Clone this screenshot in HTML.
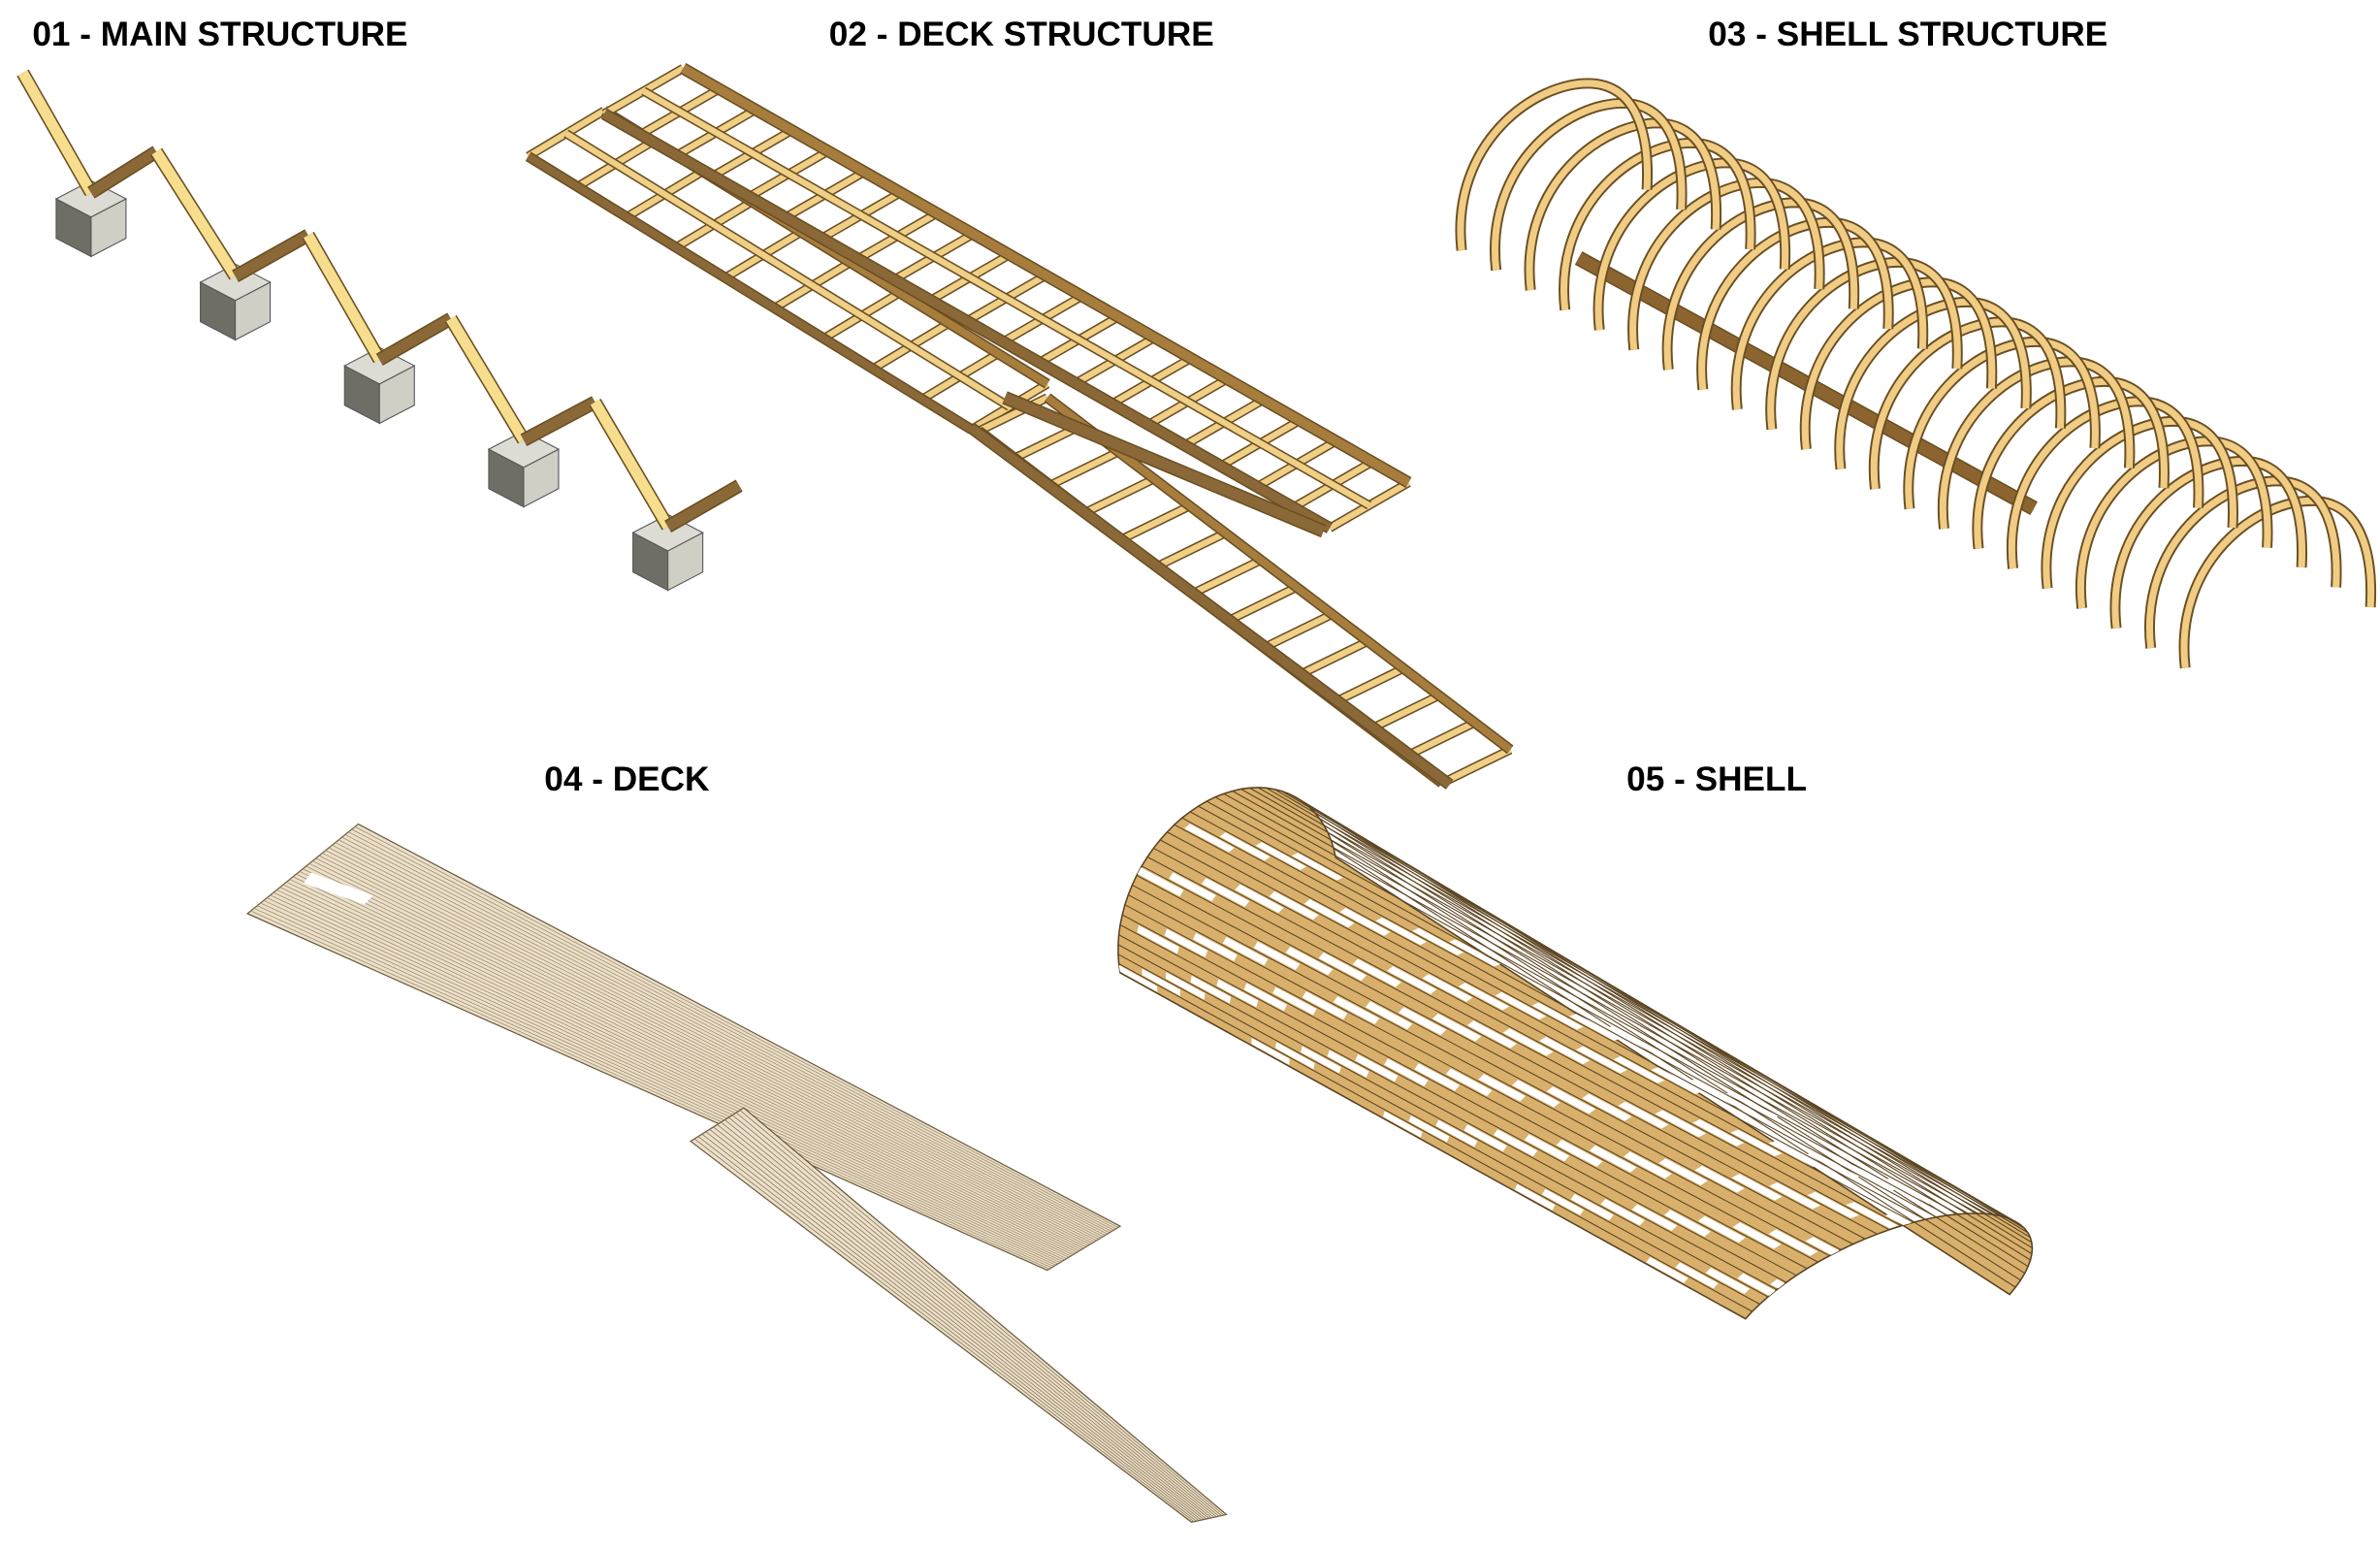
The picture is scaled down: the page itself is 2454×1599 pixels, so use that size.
<!DOCTYPE html>
<html><head><meta charset="utf-8">
<style>html,body{margin:0;padding:0;background:#fff;}svg{display:block;}</style>
</head><body>
<svg id="s" xmlns="http://www.w3.org/2000/svg" width="2454" height="1599" viewBox="0 0 1568 1022" preserveAspectRatio="none">
<rect width="1568" height="1022" fill="#fff"/>
<g font-family="Liberation Sans, Arial, sans-serif" font-weight="bold" font-size="22.5" fill="#000" text-anchor="middle">
<text x="145" y="30">01 - MAIN STRUCTURE</text>
<text x="673" y="30">02 - DECK STRUCTURE</text>
<text x="1257" y="30">03 - SHELL STRUCTURE</text>
<text x="413" y="521">04 - DECK</text>
<text x="1131" y="521">05 - SHELL</text>
</g>
<g id="g"></g>
</svg>
<script>
var NS="http://www.w3.org/2000/svg",G=document.getElementById("g");
function el(t,a,p){var e=document.createElementNS(NS,t);for(var k in a)e.setAttribute(k,a[k]);(p||G).appendChild(e);return e;}
function ln(a,b,c,w){el("line",{x1:a[0],y1:a[1],x2:b[0],y2:b[1],stroke:c,"stroke-width":w,"stroke-linecap":"butt"});}
function beam(a,b,w,c){ln(a,b,"#6b4f22",w+2);ln(a,b,c||"#f0cf86",w);}
function add(a,b,t){return[a[0]+b[0]*t,a[1]+b[1]*t];}
function lerp(a,b,t){return[a[0]+(b[0]-a[0])*t,a[1]+(b[1]-a[1])*t];}
function pts(A){return A.map(function(p){return p[0].toFixed(1)+","+p[1].toFixed(1)}).join(" ");}

// 01 main structure
var B=[[60,137],[155,192],[250,247],[345,302],[440,357]];
B.forEach(function(b){var x=b[0],y=b[1];
 el("polygon",{points:pts([[x-23,y-6],[x,y+6],[x,y+32],[x-23,y+20]]),fill:"#6e6e66",stroke:"#555","stroke-width":0.7});
 el("polygon",{points:pts([[x,y+6],[x+23,y-6],[x+23,y+20],[x,y+32]]),fill:"#cfcfc6",stroke:"#555","stroke-width":0.7});
 el("polygon",{points:pts([[x-23,y-6],[x,y-18],[x+23,y-6],[x,y+6]]),fill:"#dcdcd4",stroke:"#555","stroke-width":0.7});
});
var Z=[[15,48],[60,127],[103,100],[155,182],[203,155],[250,237],[297,210],[345,290],[392,265],[440,347],[487,320]];
for(var i=0;i<Z.length-1;i++){beam(Z[i],Z[i+1],7,i%2?"#8a6838":"#f7de8e");}

// 02 deck structure
function grid(o,L,W,n,mids,wr,wc){
 for(var i=0;i<=n;i++){var p=add(o,L,i/n);beam(p,add(p,W,1),wc);}
 mids.forEach(function(m){var p=add(o,W,m);beam(p,add(p,L,1),wc);});
 var p0=o,p1=add(o,L,1);beam(p0,p1,wr,"#a77d3e");
 beam(add(p0,W,1),add(p1,W,1),wr,"#8a6838");
}
grid([398,73],[292,180],[-50,30],9,[0.5],5,4);
grid([450,45],[478,273],[-52,30],20,[0.5],6,4);
// ramp
grid([690,262],[305,232],[-45,22],13,[],5,4);
beam([640,282],[955,517],6,"#8a6838");
beam([662,262],[872,350],7,"#8a6838");

// 03 shell structure
beam([1040,170],[1340,335],8,"#8b6430");
for(var k=21;k>=0;k--){var x=963+k*22.7,y=165+k*13.1;
 var d="M"+x+","+y+" c -8,-70 48,-112 86,-110 c 30,2 38,35 36,70";
 el("path",{d:d,fill:"none",stroke:"#6b4f22","stroke-width":7});
 el("path",{d:d,fill:"none",stroke:"#f0cc84","stroke-width":4.5});
}

// 04 deck
function planks(A,Bp,C,D,n,lc){
 el("polygon",{points:pts([A,Bp,C,D]),fill:"#ebe0cb",stroke:"#6e5c3e","stroke-width":0.8});
 for(var i=1;i<n;i++){var t=i/n;ln(lerp(A,D,t),lerp(Bp,C,t),lc,0.5);}
}
planks([236,543],[738,808],[690,837],[163,602],34,"#a08c6a");
planks([490,730],[808,998],[785,1003],[455,752],14,"#8a7656");
el("polygon",{points:"205,575 246,590 240,596 200,582",fill:"#fff"});

// 05 shell
var C0=[809,603],a0=[-71,38],b0=[-14,-75];
var C1=[1237,861],a1=[-87,8],b1=[53,-61];
function P(u,f){var c=Math.cos(f),s=Math.sin(f);
 var p0=[C0[0]+c*a0[0]+s*b0[0],C0[1]+c*a0[1]+s*b0[1]];
 var p1=[C1[0]+c*a1[0]+s*b1[0],C1[1]+c*a1[1]+s*b1[1]];return lerp(p0,p1,u);}
var N=40,poly=[];
for(var i=0;i<=N;i++)poly.push(P(0,Math.PI*i/N));
for(var i=N;i>=0;i--)poly.push(P(1,Math.PI*i/N));
el("polygon",{points:pts(poly),fill:"#d8b06c",stroke:"#5a4320","stroke-width":1});
for(var i=1;i<N;i++){ln(P(0,Math.PI*i/N),P(1,Math.PI*i/N),"#5e4622",0.7);}
for(var r=0;r<20;r++){for(var c=0;c<5;c++){
 var f1=Math.PI*(r+0.15)/N, f2=Math.PI*(r+0.85)/N;
 var u1=((c*0.21+r*0.037)%1), u2=Math.min(1,u1+0.06);
 el("polygon",{points:pts([P(u1,f1),P(u2,f1),P(u2,f2),P(u1,f2)]),fill:"#fff"});
}}
</script>
</body></html>
